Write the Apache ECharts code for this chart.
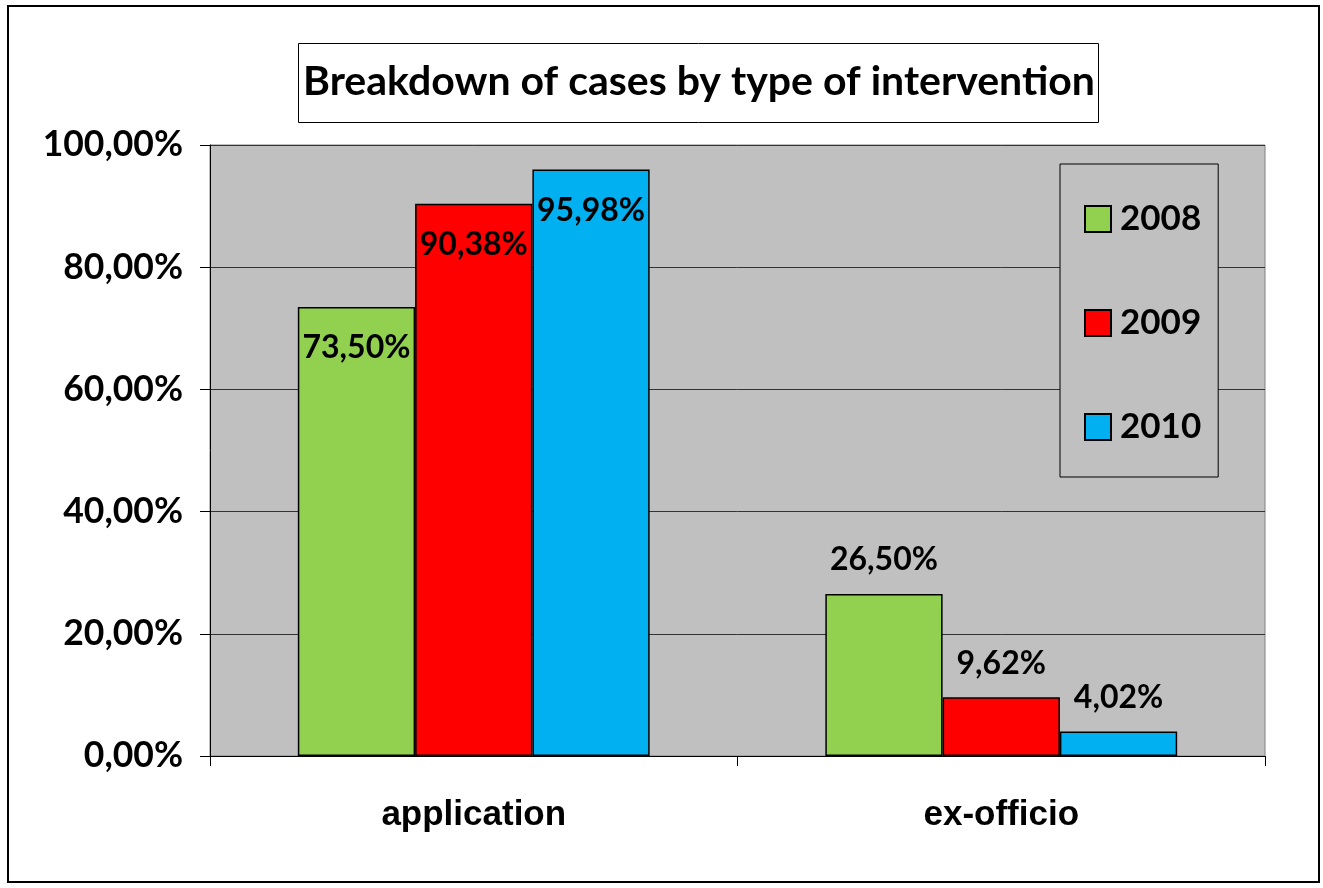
<!DOCTYPE html>
<html>
<head>
<meta charset="utf-8">
<script src="https://cdn.jsdelivr.net/npm/echarts@6/dist/echarts.min.js"></script>
<style>html,body{margin:0;padding:0;background:#fff}#c{width:1323px;height:888px}</style>
</head>
<body>
<div id="c"></div>
<script>
const titleText = 'Breakdown of cases by type of intervention';
const categories = ['application', 'ex-officio'];
const seriesNames = ['2008', '2009', '2010'];
const values2008 = [73.50, 26.50];
const values2009 = [90.38, 9.62];
const values2010 = [95.98, 4.02];
const yTicks = [0, 20, 40, 60, 80, 100];
const colors = ['#92d050', '#ff0000', '#00b0f0'];

const fmt = v => v.toFixed(2).replace('.', ',') + '%';
const labelFont = { fontFamily: 'Lato', fontWeight: 'bold', fontSize: 32, color: '#000' };
const labelPerCategory = [
  { position: 'insideTop', distance: 25 },
  { position: 'top', distance: 18 }
];
function buildData(vals) {
  return vals.map((v, i) => ({ value: v, label: Object.assign({}, labelPerCategory[i]) }));
}
const allValues = [values2008, values2009, values2010];

const chart = echarts.init(document.getElementById('c'), null, { renderer: 'canvas' });
chart.setOption({
  animation: false,
  backgroundColor: '#fff',
  title: {
    text: titleText,
    left: 694,
    top: 56,
    textAlign: 'center',
    textStyle: { fontFamily: 'Lato', fontWeight: 'bold', fontSize: 41, color: '#000' }
  },
  graphic: [
    { type: 'rect', z: -10, shape: { x: 8, y: 6, width: 1311, height: 876 }, style: { fill: '#fff', stroke: '#000', lineWidth: 2 } },
    { type: 'rect', z: 1, shape: { x: 298.5, y: 43.5, width: 800, height: 79 }, style: { fill: 'none', stroke: '#000', lineWidth: 1 } }
  ],
  legend: {
    orient: 'vertical',
    left: 1060,
    top: 164,
    padding: [35, 17, 30, 24],
    itemGap: 64,
    itemWidth: 26,
    itemHeight: 26,
    icon: 'rect',
    backgroundColor: '#c0c0c0',
    borderColor: '#000',
    borderWidth: 1,
    textStyle: { fontFamily: 'Lato', fontWeight: 'bold', fontSize: 35, color: '#000', lineHeight: 40, padding: [0, 0, 0, 4] },
    data: seriesNames
  },
  grid: {
    left: 210, top: 145, right: 58, bottom: 132,
    show: true, backgroundColor: '#c0c0c0', borderColor: '#808080', borderWidth: 1
  },
  xAxis: {
    type: 'category',
    data: categories,
    axisLine: { lineStyle: { color: '#000', width: 1 } },
    axisTick: { show: true, length: 10, lineStyle: { color: '#000' } },
    axisLabel: { margin: 42, fontFamily: 'Liberation Sans', fontWeight: 'bold', fontSize: 35, color: '#000' }
  },
  yAxis: {
    type: 'value',
    min: yTicks[0],
    max: yTicks[yTicks.length - 1],
    interval: yTicks[1] - yTicks[0],
    axisLine: { show: true, lineStyle: { color: '#000', width: 1 } },
    axisTick: { show: true, length: 10, lineStyle: { color: '#000' } },
    axisLabel: { margin: 27, formatter: fmt, fontFamily: 'Lato', fontWeight: 'bold', fontSize: 35.5, color: '#000' },
    splitLine: { lineStyle: { color: '#333', width: 1 } }
  },
  series: seriesNames.map((name, si) => ({
    name: name,
    type: 'bar',
    barGap: '0%',
    barCategoryGap: '33.3%',
    data: buildData(allValues[si]),
    itemStyle: { color: colors[si], borderColor: '#000', borderWidth: 1.5 },
    label: Object.assign({ show: true, formatter: p => fmt(p.value) }, labelFont)
  }))
});
</script>
</body>
</html>
